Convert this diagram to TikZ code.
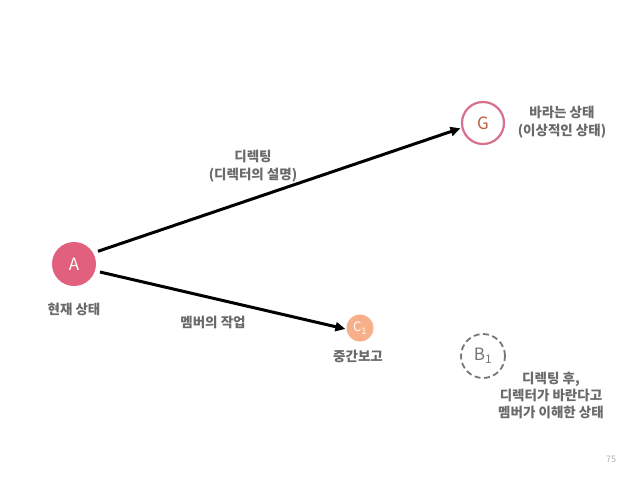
\documentclass[tikz,border=0pt]{standalone}
\usepackage{fontspec}
\setmainfont{Noto Sans CJK KR}
\usetikzlibrary{arrows.meta}
\definecolor{stateA}{HTML}{E0607E}
\definecolor{goalring}{HTML}{D7708A}
\definecolor{goaltext}{HTML}{C0603F}
\definecolor{midfill}{HTML}{F8B08C}
\definecolor{txtgray}{HTML}{6A6A6A}
\definecolor{dashgray}{HTML}{777777}

\begin{document}
\begin{tikzpicture}
[
x=1pt,y=-1pt,
arc/.style={line width=3pt,black,-{Triangle[length=10pt,width=9pt]},shorten >=1pt,shorten <=5pt},
desc/.style={text=txtgray,font=\fontsize{13.5}{18}\selectfont\bfseries,align=center,inner sep=0pt},
bigstate/.style={circle,minimum size=44pt,inner sep=0pt,font=\fontsize{17}{17}\selectfont}
]
\useasboundingbox[fill=white] (0,0) rectangle (638,479);
\node[bigstate,fill=stateA,text=white] (A) at (74,264){A};
\node[bigstate,draw=goalring,line width=2.2pt,fill=white,text=goaltext,minimum size=42pt] (G) at (483,123){G};
\node[circle,fill=midfill,text=white,minimum size=27pt,inner sep=0pt,font=\fontsize{13}{13}\selectfont] (C1) at (360,328){C\textsubscript{1}};
\node[bigstate,draw=dashgray,dash pattern=on 6pt off 3.5pt,line width=1.8pt,text=dashgray,minimum size=44pt] (B1) at (483,356){B\textsubscript{1}};

\node[desc] (a-lab) at (74,309){현재 상태};
\node[desc] (g-lab) at (562,122){바라는 상태\\(이상적인 상태)};
\node[desc] (ag-lab) at (253,166){디렉팅\\(디렉터의 설명)};
\node[desc] (ac-lab) at (213,322){멤버의 작업};
\node[desc] (c-lab) at (358,356){중간보고};
\node[desc,font=\fontsize{13.5}{17}\selectfont\bfseries] (b-lab) at (551,395){디렉팅 후,\\디렉터가 바란다고\\멤버가 이해한 상태};
\node[text=black!30,font=\fontsize{9}{9}\selectfont] (page) at (611,459){75};

\draw[arc] (A.30)--(G.193);
\draw[arc] (A.-18)--(C1.185);
\end{tikzpicture}
\end{document}
